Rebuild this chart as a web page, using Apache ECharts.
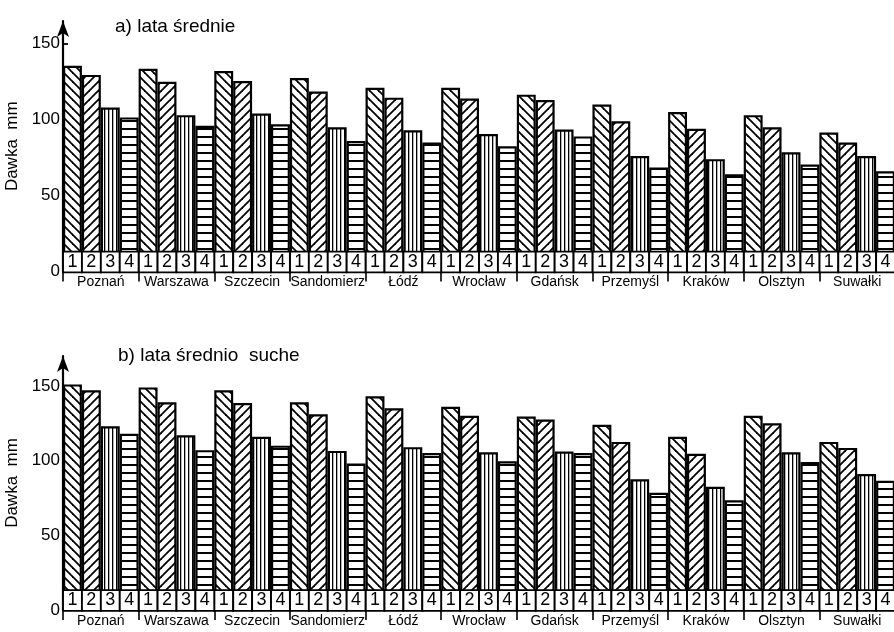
<!DOCTYPE html>
<html>
<head>
<meta charset="utf-8">
<script src="https://cdn.jsdelivr.net/npm/echarts@6/dist/echarts.min.js"></script>
<style>html,body{margin:0;padding:0;background:#fff}#c{width:894px;height:632px}</style>
</head>
<body>
<div id="c"></div>
<script>
// ---- data ----
const cities = ['Poznań','Warszawa','Szczecin','Sandomierz','Łódź','Wrocław','Gdańsk','Przemyśl','Kraków','Olsztyn','Suwałki'];
const seriesNames = ['1','2','3','4'];
const yTickValues = [0, 50, 100, 150];
const titleA = 'a) lata średnie';
const titleB = 'b) lata średnio  suche';
const yName = 'Dawka  mm';

// a) lata średnie
const a1 = [135.5, 133.5, 132, 127.5, 121, 121, 116.5, 110, 105, 103, 91.5];
const a2 = [129.5, 125, 125.5, 118.5, 114.5, 114, 113, 99, 94, 95, 85];
const a3 = [108, 103, 104, 95, 93, 90.5, 93.5, 76, 74, 78.5, 76];
const a4 = [101.5, 96, 97, 86, 85, 82.5, 89, 68.5, 64, 70.5, 66];
// b) lata średnio suche
const b1 = [151, 149, 147, 139, 143, 136, 129.5, 124, 116, 130, 112.5];
const b2 = [147, 139, 138.5, 131, 135, 130, 127.5, 112.5, 104.5, 125, 108.5];
const b3 = [123, 117, 116, 106.5, 109, 105.5, 106, 87.5, 82.5, 105.5, 91];
const b4 = [118, 107, 110, 98, 105, 99.5, 105, 78.5, 73.5, 99, 86.5];

// ---- hatch patterns ----
function pat(kind) {
  const c = document.createElement('canvas');
  const ctx = c.getContext('2d');
  if (kind === 'back' || kind === 'fwd') {
    const s = 9;
    c.width = s; c.height = s;
    ctx.fillStyle = '#fff'; ctx.fillRect(0, 0, s, s);
    ctx.strokeStyle = '#000'; ctx.lineWidth = 1.8;
    for (const k of [-s, 0, s]) {
      ctx.beginPath();
      if (kind === 'back') { ctx.moveTo(k - 1, -1); ctx.lineTo(k + s + 1, s + 1); }
      else { ctx.moveTo(k - 1, s + 1); ctx.lineTo(k + s + 1, -1); }
      ctx.stroke();
    }
  } else if (kind === 'vert') {
    c.width = 4; c.height = 8;
    ctx.fillStyle = '#fff'; ctx.fillRect(0, 0, 4, 8);
    ctx.fillStyle = '#000'; ctx.fillRect(0, 0, 1.3, 8);
  } else {
    c.width = 8; c.height = 8;
    ctx.fillStyle = '#fff'; ctx.fillRect(0, 0, 8, 8);
    ctx.fillStyle = '#000'; ctx.fillRect(0, 0, 8, 2);
  }
  return { image: c, repeat: 'repeat' };
}
const patterns = [pat('back'), pat('fwd'), pat('vert'), pat('horiz')];

const FONT = "'Liberation Sans', 'DejaVu Sans', sans-serif";

function mkSeries(vals, gi) {
  return vals.map((v, i) => ({
    name: seriesNames[i],
    type: 'bar',
    xAxisIndex: gi, yAxisIndex: gi,
    data: v,
    barGap: '0%',
    barCategoryGap: '0%',
    itemStyle: { color: patterns[i], borderColor: '#000', borderWidth: 2.2 },
    label: {
      show: true, position: 'insideBottom', distance: 0,
      formatter: '{a}', color: '#000', fontFamily: FONT, fontSize: 18,
      backgroundColor: '#fff', borderColor: '#000', borderWidth: 1.8,
      width: 17, height: 19, lineHeight: 19, align: 'center', padding: 0
    },
    emphasis: { disabled: true },
    silent: true,
    animation: false
  }));
}

function mkY(gi, max) {
  return {
    type: 'value', gridIndex: gi, min: 0, max: max, interval: 50,
    name: yName, nameLocation: 'middle', nameGap: 33, nameRotate: 90,
    nameTextStyle: { color: '#000', fontSize: 17, fontFamily: FONT },
    axisLine: { show: true, symbol: ['none', 'arrow'], symbolSize: [9, 16], lineStyle: { color: '#000', width: 2.2 } },
    axisTick: { show: true, inside: true, length: 5, customValues: yTickValues, lineStyle: { color: '#000', width: 1.8 } },
    axisLabel: { color: '#000', fontSize: 17, fontFamily: FONT, margin: 3, customValues: yTickValues },
    splitLine: { show: false }
  };
}
function mkX(gi) {
  return {
    type: 'category', gridIndex: gi, data: cities,
    axisLine: { show: true, lineStyle: { color: '#000', width: 2.2 } },
    axisTick: { show: true, length: 10, interval: 0, lineStyle: { color: '#000', width: 1.6 } },
    axisLabel: { color: '#000', fontSize: 14, fontFamily: FONT, margin: 4, interval: 0 },
    splitLine: { show: false }
  };
}

const chart = echarts.init(document.getElementById('c'), null, { renderer: 'canvas' });
chart.setOption({
  backgroundColor: '#fff',
  animation: false,
  title: [
    { text: titleA, left: 115, top: 17, padding: 0, textStyle: { fontSize: 19, fontWeight: 'normal', color: '#000', fontFamily: FONT } },
    { text: titleB, left: 118, top: 346, padding: 0, textStyle: { fontSize: 19, fontWeight: 'normal', color: '#000', fontFamily: FONT } }
  ],
  grid: [
    { left: 63, top: 21, width: 832, height: 250.5, containLabel: false, outerBoundsMode: 'none' },
    { left: 63, top: 356, width: 832, height: 254, containLabel: false, outerBoundsMode: 'none' }
  ],
  xAxis: [mkX(0), mkX(1)],
  yAxis: [mkY(0, 165), mkY(1, 170)],
  series: [...mkSeries([a1, a2, a3, a4], 0), ...mkSeries([b1, b2, b3, b4], 1)]
});
</script>
</body>
</html>
